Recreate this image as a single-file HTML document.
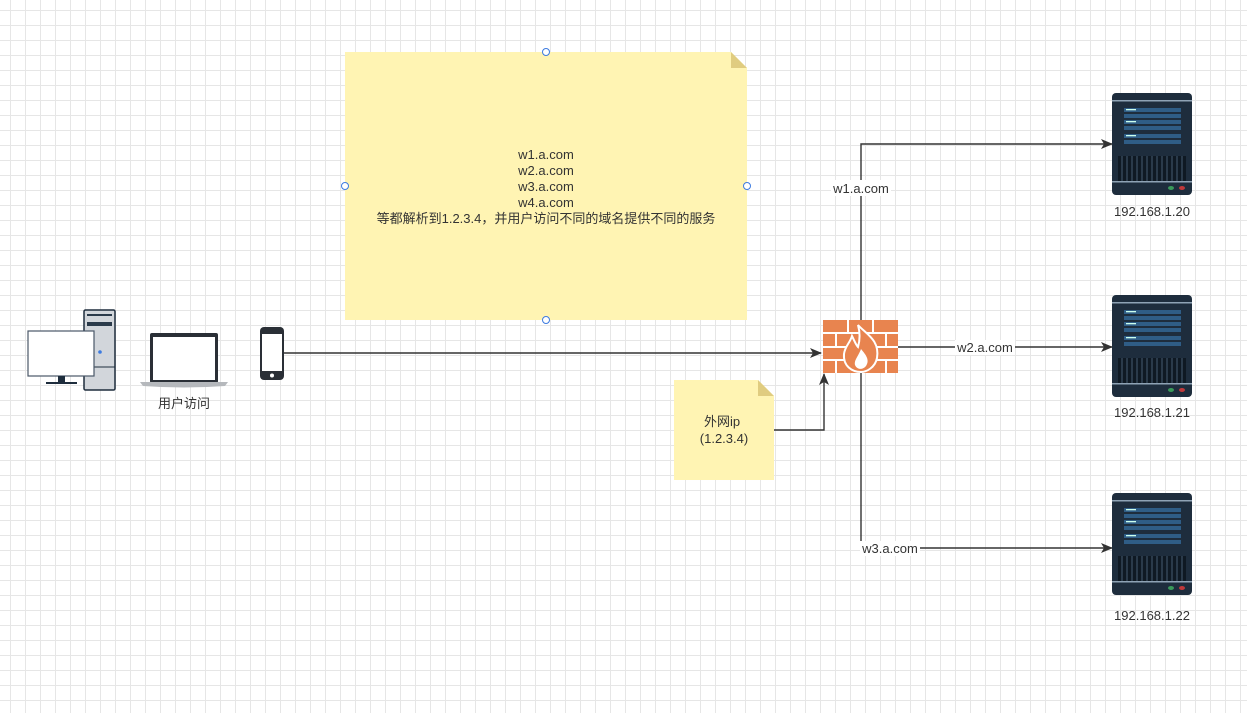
<!DOCTYPE html>
<html><head><meta charset="utf-8"><style>
body{margin:0;width:1247px;height:713px;overflow:hidden;background:#fff;
background-image:linear-gradient(#e6e6e6 1px,transparent 1px),linear-gradient(90deg,#e6e6e6 1px,transparent 1px);
background-size:15px 15px;background-position:0 10px,10px 0;font-family:"Liberation Sans","Noto Sans CJK SC",sans-serif;}
svg{position:absolute;left:0;top:0}
text{font-family:"Liberation Sans","Noto Sans CJK SC",sans-serif;font-size:13px;fill:#333}
</style></head><body>
<svg width="1247" height="713" viewBox="0 0 1247 713">
<defs>
<marker id="ar" markerWidth="12" markerHeight="10" refX="11" refY="5" orient="auto" markerUnits="userSpaceOnUse"><path d="M0,0 L12,5 L0,10 L3,5 Z" fill="#333"/></marker>
<g id="srv">
<rect x="0" y="0" width="80" height="102" rx="4" fill="#1e2d3d"/>
<rect x="0" y="7" width="80" height="1.5" fill="#8fa3b5"/>
<rect x="12" y="15" width="57" height="4" fill="#2f5d86"/><rect x="12" y="21" width="57" height="4" fill="#2f5d86"/>
<rect x="12" y="27" width="57" height="4" fill="#2f5d86"/><rect x="12" y="33" width="57" height="4" fill="#2f5d86"/>
<rect x="12" y="41" width="57" height="4" fill="#2f5d86"/><rect x="12" y="47" width="57" height="4" fill="#2f5d86"/>
<rect x="14" y="16" width="10" height="1.3" fill="#cfe"/><rect x="14" y="28" width="10" height="1.3" fill="#cfe"/><rect x="14" y="42" width="10" height="1.3" fill="#cfe"/>
<rect x="6" y="63" width="68" height="25" fill="#0f1923"/>
<g fill="#2a3a4a"><rect x="9" y="63" width="2" height="25"/><rect x="14" y="63" width="2" height="25"/><rect x="19" y="63" width="2" height="25"/><rect x="24" y="63" width="2" height="25"/><rect x="29" y="63" width="2" height="25"/><rect x="34" y="63" width="2" height="25"/><rect x="39" y="63" width="2" height="25"/><rect x="44" y="63" width="2" height="25"/><rect x="49" y="63" width="2" height="25"/><rect x="54" y="63" width="2" height="25"/><rect x="59" y="63" width="2" height="25"/><rect x="64" y="63" width="2" height="25"/><rect x="69" y="63" width="2" height="25"/></g>
<rect x="0" y="88" width="80" height="1.5" fill="#8fa3b5"/>
<ellipse cx="59" cy="95" rx="3" ry="2" fill="#3a9a5a"/><ellipse cx="70" cy="95" rx="3" ry="2" fill="#c0393b"/>
</g>
</defs>
<path d="M345,52 H731 L747,68 V320 H345 Z" fill="#fff4b3"/>
<path d="M731,52 L747,68 H731 Z" fill="#e0cc80"/>
<g text-anchor="middle">
<text x="546" y="159">w1.a.com</text><text x="546" y="175">w2.a.com</text>
<text x="546" y="191">w3.a.com</text><text x="546" y="207">w4.a.com</text>
<text x="546" y="223">等都解析到1.2.3.4，并用户访问不同的域名提供不同的服务</text>
</g>
<g fill="#fff" stroke="#3d7be0" stroke-width="1"><circle cx="546" cy="52" r="3.5"/><circle cx="345" cy="186" r="3.5"/><circle cx="747" cy="186" r="3.5"/><circle cx="546" cy="320" r="3.5"/></g>
<path d="M674,380 H758 L774,396 V480 H674 Z" fill="#fff4b3"/>
<path d="M758,380 L774,396 H758 Z" fill="#e0cc80"/>
<text x="722" y="426" text-anchor="middle">外网ip</text>
<text x="724" y="443" text-anchor="middle">(1.2.3.4)</text>
<g stroke="#333" stroke-width="1.4" fill="none">
<path d="M284,353 H821" marker-end="url(#ar)"/>
<path d="M774,430 H824 V374" marker-end="url(#ar)"/>
<path d="M861,320 V144 H1112" marker-end="url(#ar)"/>
<path d="M898,347 H1112" marker-end="url(#ar)"/>
<path d="M861,373 V548 H1112" marker-end="url(#ar)"/>
</g>
<rect x="831" y="180" width="60" height="16" fill="#fff"/><text x="861" y="193" text-anchor="middle">w1.a.com</text>
<rect x="955" y="340" width="60" height="15" fill="#fff"/><text x="985" y="352" text-anchor="middle">w2.a.com</text>
<rect x="860" y="541" width="60" height="15" fill="#fff"/><text x="890" y="553" text-anchor="middle">w3.a.com</text>
<rect x="823" y="320" width="75" height="53" fill="#e8844f"/>
<g stroke="#fff" stroke-width="2"><path d="M823,333 H898 M823,347 H898 M823,360 H898"/>
<path d="M848,320 V333 M873,320 V333 M836,333 V347 M861,333 V347 M886,333 V347 M848,347 V360 M873,347 V360 M836,360 V373 M861,360 V373 M886,360 V373"/></g>
<path d="M858,325 C866,334 880,340 877,358 C875,368 866,372 861,372 C852,372 843,366 844,354 C845,346 850,343 852,336 C855,342 856,345 858,347 C860,340 860,332 858,325 Z" fill="#e8844f" stroke="#fff" stroke-width="2"/>
<path d="M861,349 C866,355 870,360 866,366 C863,370 857,370 855,365 C854,360 858,357 861,349 Z" fill="#fff"/>
<use href="#srv" x="1112" y="93"/><use href="#srv" x="1112" y="295"/><use href="#srv" x="1112" y="493"/>
<g text-anchor="middle"><text x="1152" y="216">192.168.1.20</text><text x="1152" y="417">192.168.1.21</text><text x="1152" y="620">192.168.1.22</text></g>
<rect x="84" y="310" width="31" height="80" rx="1.5" fill="#d2d6db" stroke="#1e2d3d" stroke-width="1.5"/>
<rect x="87" y="314" width="25" height="2" fill="#2a3a4a"/><rect x="87" y="322" width="25" height="4" fill="#2a3a4a"/>
<line x1="84" y1="367" x2="115" y2="367" stroke="#1e2d3d"/>
<circle cx="100" cy="352" r="1.8" fill="#3d7be0"/>
<rect x="28" y="331" width="66" height="45" fill="#fff" stroke="#4a5868" stroke-width="1.2"/>
<rect x="58" y="376" width="7" height="6" fill="#1e2d3d"/><rect x="46" y="382" width="31" height="2" fill="#1e2d3d"/>
<rect x="150" y="333" width="68" height="50" rx="2" fill="#2a2f36"/>
<rect x="153" y="337" width="62" height="43" fill="#fff"/>
<path d="M140,382 H228 L225,386 Q184,389 143,386 Z" fill="#b5b8bc"/>
<text x="184" y="408" text-anchor="middle">用户访问</text>
<rect x="260" y="327" width="24" height="53" rx="4" fill="#2a2f36"/>
<rect x="262" y="334" width="20" height="37" fill="#fff"/>
<circle cx="272" cy="375.5" r="2" fill="#fff"/>
</svg>
</body></html>
